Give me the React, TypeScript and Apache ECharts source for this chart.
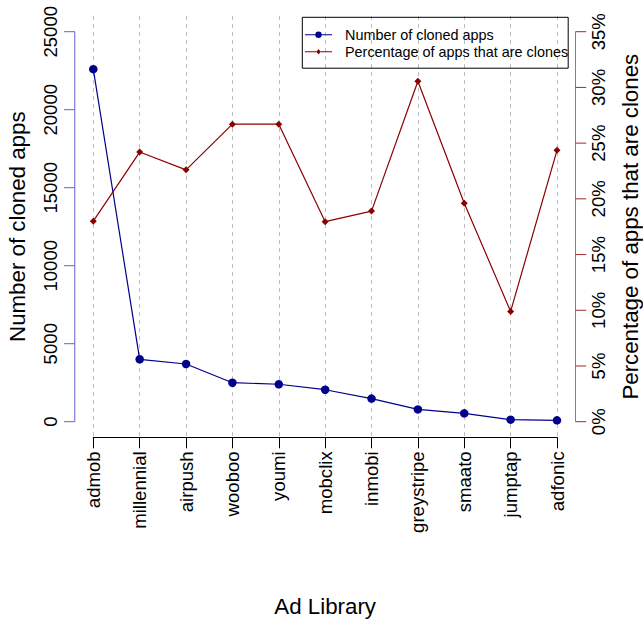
import React, { useEffect, useRef } from "react";
import * as echarts from "echarts";

const categories = ["admob", "millennial", "airpush", "wooboo", "youmi", "mobclix", "inmobi", "greystripe", "smaato", "jumptap", "adfonic"];
const clonedApps = [22600, 4000, 3700, 2500, 2400, 2050, 1480, 790, 535, 130, 85];
const clonePct = [18.0, 24.2, 22.6, 26.7, 26.7, 17.95, 18.9, 30.55, 19.6, 9.9, 24.35];

const leftTicks = [0, 5000, 10000, 15000, 20000, 25000];
const rightTicks = [0, 5, 10, 15, 20, 25, 30, 35];

const seriesNames = ["Number of cloned apps", "Percentage of apps that are clones"];

const FONT = "'Liberation Sans', Arial, Helvetica, sans-serif";
const BLUE = "#00008B";
const RED = "#8B0000";
const LEFT_AXIS_COLOR = "#6262CC";
const RIGHT_AXIS_COLOR = "#C46666";
const RIGHT_TICK_COLOR = "#A52A2A";

// layout (pixels)
const PLOT_LEFT = 74.75;
const PLOT_RIGHT = 575.5;
const TICK_LEN = 10.7;

export default function App() {
  const ref = useRef<HTMLDivElement>(null);
  useEffect(() => {
    if (!ref.current) return;
    const chart = echarts.init(ref.current, null, { renderer: "svg" });
    const common = { containLabel: false, outerBoundsMode: "none" };
    const hiddenLine = { show: false };
    const option = {
      animation: false,
      textStyle: { fontFamily: FONT },
      grid: [
        { left: 93.3, right: 86, top: 31.7, bottom: 201.3, ...common },
        { left: 93.3, right: 86, top: 16.1, bottom: 185.7, ...common },
      ],
      legend: {
        orient: "vertical",
        left: 302.3,
        top: 17.3,
        borderColor: "#000",
        borderWidth: 1,
        padding: [10.5, 0, 9.5, 2.7],
        itemWidth: 27,
        itemHeight: 8,
        itemGap: 2.9,
        textStyle: { fontSize: 14.4, color: "#000", fontFamily: FONT, padding: [0, 0, 0, 8] },
        data: [
          {
            name: seriesNames[0],
            icon: "path://M0,3.5h10.3v1h-10.3z M16.7,3.5h10.3v1h-10.3z M10.3,4a3.2,3.2 0 1 0 6.4,0a3.2,3.2 0 1 0 -6.4,0z",
            itemStyle: { color: BLUE, borderWidth: 0 },
          },
          {
            name: seriesNames[1],
            icon: "path://M0,3.5h11v1h-11z M16,3.5h11v1h-11z M13.5,1.5l2.5,2.5l-2.5,2.5l-2.5,-2.5z",
            itemStyle: { color: RED, borderWidth: 0 },
          },
        ],
      },
      xAxis: [
        {
          type: "category",
          gridIndex: 0,
          data: categories,
          boundaryGap: false,
          position: "bottom",
          offset: 15.6,
          axisLine: { onZero: false, lineStyle: { color: "#000", width: 1 } },
          axisTick: { length: 11, interval: 0, lineStyle: { color: "#000", width: 1 } },
          axisLabel: { interval: 0, rotate: 90, margin: 14, fontSize: 18.6, color: "#000", fontFamily: FONT, padding: [6, 0, 0, 0] },
          splitLine: { show: false },
          name: "Ad Library",
          nameLocation: "middle",
          nameGap: 158,
          nameTextStyle: { fontSize: 22.3, color: "#000", fontFamily: FONT },
        },
        {
          type: "category",
          gridIndex: 1,
          data: categories,
          boundaryGap: false,
          axisLine: { show: false },
          axisTick: { show: false },
          axisLabel: { show: false },
          splitLine: { show: true, interval: 0, lineStyle: { color: "#BEBEBE", type: [4, 4], width: 1 } },
        },
      ],
      yAxis: [
        {
          type: "value",
          gridIndex: 0,
          min: leftTicks[0],
          max: leftTicks[leftTicks.length - 1],
          interval: leftTicks[1] - leftTicks[0],
          position: "left",
          offset: 18.55,
          axisLine: hiddenLine,
          axisTick: hiddenLine,
          axisLabel: { rotate: 90, margin: 15, fontSize: 18.6, color: "#000", fontFamily: FONT, formatter: (v: number) => String(v) },
          splitLine: { show: false },
          name: seriesNames[0],
          nameLocation: "middle",
          nameRotate: 90,
          nameGap: 46.3,
          nameTextStyle: { fontSize: 22.3, color: "#000", fontFamily: FONT },
        },
        {
          type: "value",
          gridIndex: 0,
          min: rightTicks[0],
          max: rightTicks[rightTicks.length - 1],
          interval: rightTicks[1] - rightTicks[0],
          position: "right",
          offset: 18.5,
          axisLine: hiddenLine,
          axisTick: hiddenLine,
          axisLabel: { rotate: 90, margin: 13, fontSize: 18.6, color: "#000", fontFamily: FONT, formatter: (v: number) => v + "%" },
          splitLine: { show: false },
          name: seriesNames[1],
          nameLocation: "middle",
          nameRotate: 90,
          nameGap: 44.2,
          nameTextStyle: { fontSize: 22.3, color: "#000", fontFamily: FONT },
        },
        { type: "value", gridIndex: 1, show: false },
      ],
      series: [
        {
          name: seriesNames[0],
          type: "line",
          xAxisIndex: 0,
          yAxisIndex: 0,
          data: clonedApps,
          symbol: "circle",
          symbolSize: 8.5,
          clip: false,
          lineStyle: { color: BLUE, width: 1.2 },
          itemStyle: { color: BLUE, borderWidth: 0 },
        },
        {
          name: seriesNames[1],
          type: "line",
          xAxisIndex: 0,
          yAxisIndex: 1,
          data: clonePct,
          symbol: "diamond",
          symbolSize: 7,
          clip: false,
          lineStyle: { color: RED, width: 1.2 },
          itemStyle: { color: RED, borderWidth: 0 },
        },
      ],
    };
    chart.setOption(option as any);

    // Axis lines and ticks positioned through the library's own scales
    const graphics: any[] = [];
    const ly = (v: number) => chart.convertToPixel({ yAxisIndex: 0 }, v) as number;
    const ry = (v: number) => chart.convertToPixel({ yAxisIndex: 1 }, v) as number;
    graphics.push({
      type: "line",
      shape: { x1: PLOT_LEFT, y1: ly(leftTicks[0]), x2: PLOT_LEFT, y2: ly(leftTicks[leftTicks.length - 1]) },
      style: { stroke: LEFT_AXIS_COLOR, lineWidth: 1 },
      silent: true,
    });
    leftTicks.forEach((t) => {
      const y = ly(t);
      graphics.push({
        type: "line",
        shape: { x1: PLOT_LEFT - TICK_LEN, y1: y, x2: PLOT_LEFT, y2: y },
        style: { stroke: LEFT_AXIS_COLOR, lineWidth: 1 },
        silent: true,
      });
    });
    graphics.push({
      type: "line",
      shape: { x1: PLOT_RIGHT, y1: ry(rightTicks[0]), x2: PLOT_RIGHT, y2: ry(rightTicks[rightTicks.length - 1]) },
      style: { stroke: RIGHT_AXIS_COLOR, lineWidth: 1 },
      silent: true,
    });
    rightTicks.forEach((t) => {
      const y = ry(t);
      graphics.push({
        type: "line",
        shape: { x1: PLOT_RIGHT, y1: y, x2: PLOT_RIGHT + TICK_LEN, y2: y },
        style: { stroke: RIGHT_TICK_COLOR, lineWidth: 1 },
        silent: true,
      });
    });
    chart.setOption({ graphic: graphics });

    return () => chart.dispose();
  }, []);
  return (
    <div
      ref={ref}
      style={{ position: "fixed", left: 0, top: 0, width: 643, height: 623, background: "#fff" }}
    />
  );
}
